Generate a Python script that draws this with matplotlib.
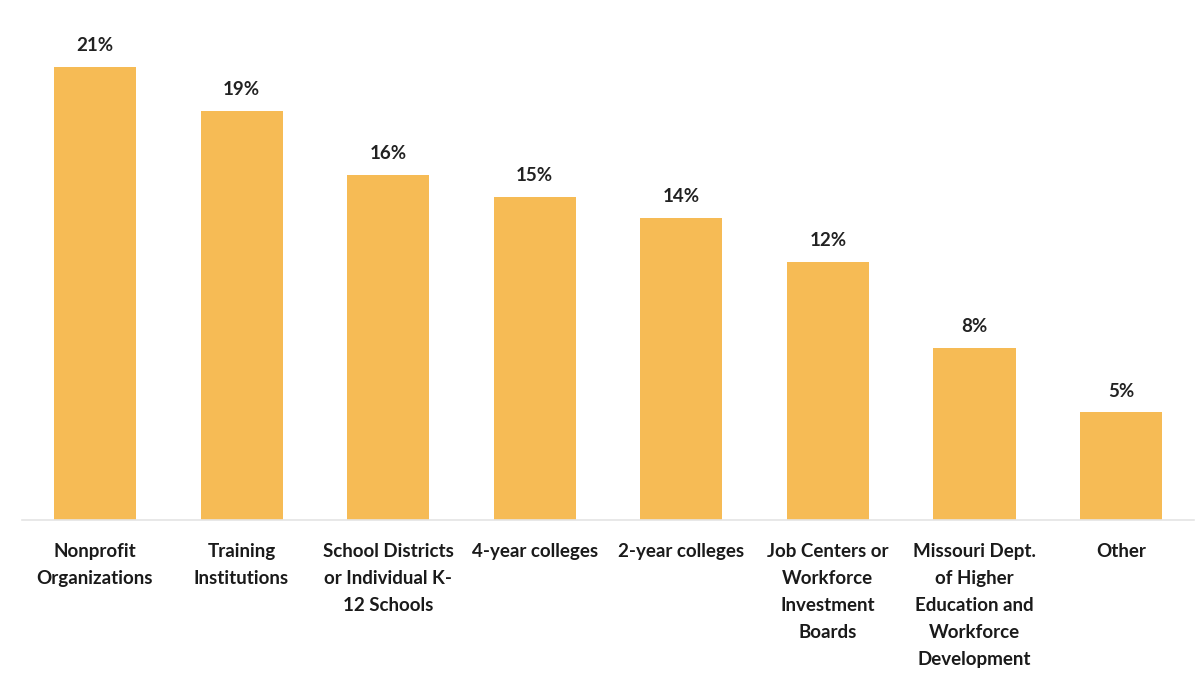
import numpy as np
import matplotlib.pyplot as plt

categories = [
    "Nonprofit\nOrganizations",
    "Training\nInstitutions",
    "School Districts\nor Individual K-\n12 Schools",
    "4-year colleges",
    "2-year colleges",
    "Job Centers or\nWorkforce\nInvestment\nBoards",
    "Missouri Dept.\nof Higher\nEducation and\nWorkforce\nDevelopment",
    "Other",
]
shares = [21, 19, 16, 15, 14, 12, 8, 5]

plt.rcParams['font.family'] = ['Lato', 'DejaVu Sans']

fig = plt.figure(figsize=(12.04, 6.81), dpi=100)
ax = fig.add_axes([0.018, 0.236, 0.974, 0.76])

x = np.arange(len(shares))
bars = ax.bar(x, shares, width=0.56, color='#F6BB55', zorder=2)

for xi, v in zip(x, shares):
    ax.text(xi, v + 0.6, "%d%%" % v, ha='center', va='bottom',
            fontsize=13.5, fontweight='bold', color='#222222')

ax.set_xlim(-0.5, len(shares) - 0.5)
ax.set_ylim(0, 24)
ax.set_xticks(x)
ax.set_xticklabels(categories, fontsize=13.5, fontweight='bold',
                   color='#1a1a1a', linespacing=1.72, va='top')
ax.tick_params(axis='x', length=0, pad=16)
ax.set_yticks([])
for side in ['top', 'right', 'left']:
    ax.spines[side].set_visible(False)
ax.spines['bottom'].set_color('#e4e4e4')
ax.spines['bottom'].set_linewidth(1.2)

fig.savefig('out.png', dpi=100)
